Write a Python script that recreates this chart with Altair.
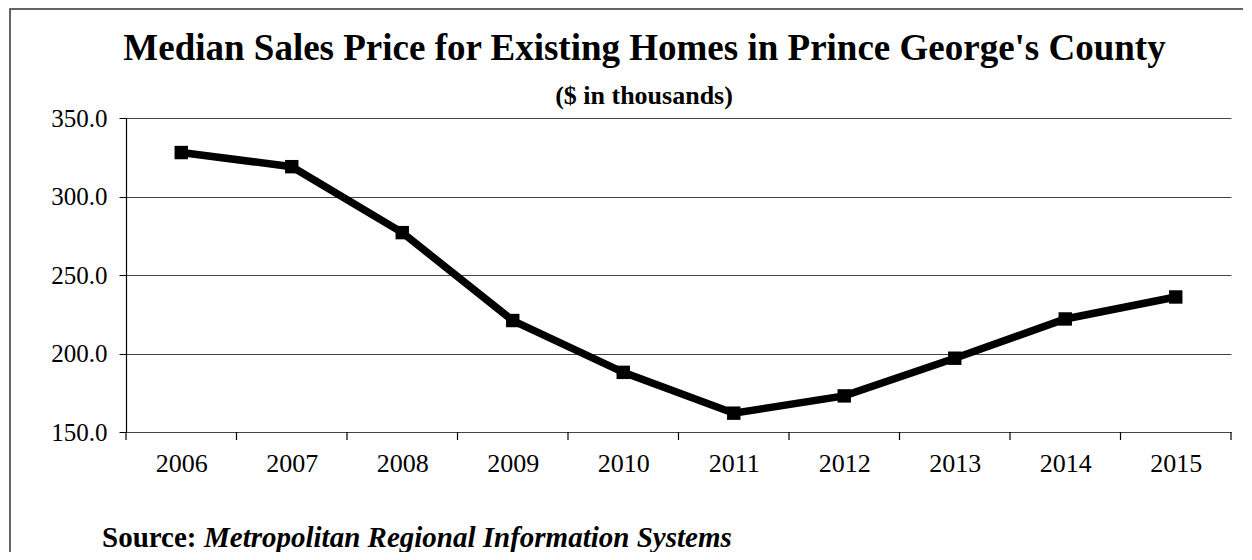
import altair as alt
import pandas as pd

years = [2006, 2007, 2008, 2009, 2010, 2011, 2012, 2013, 2014, 2015]
prices = [328, 319, 277, 221, 188, 162, 173, 197, 222, 236]
y_ticks = [150, 200, 250, 300, 350]
title_text = "Median Sales Price for Existing Homes in Prince George's County"
subtitle_text = "($ in thousands)"
source_label = "Source:"
source_text = "Metropolitan Regional Information Systems"

FONT = "Liberation Serif"
W, H = 1105, 314

df = pd.DataFrame({"year": years, "price": prices})
bounds = pd.DataFrame({"b": [y - 0.5 for y in years] + [years[-1] + 0.5]})

xscale = alt.Scale(domain=[years[0] - 0.5, years[-1] + 0.5], nice=False, zero=False)
yscale = alt.Scale(domain=[y_ticks[0], y_ticks[-1]], nice=False, zero=False)

base = alt.Chart(df)

line = base.mark_line(color="black", strokeWidth=7.5).encode(
    x=alt.X("year:Q", scale=xscale,
            axis=alt.Axis(values=years, format="d", title=None, grid=False, ticks=False,
                          domain=False, labelFont=FONT, labelFontSize=26, labelColor="black",
                          labelBaseline="alphabetic", labelPadding=39, labelFlush=False)),
    y=alt.Y("price:Q", scale=yscale,
            axis=alt.Axis(values=y_ticks, format=".1f", title=None, grid=True,
                          gridColor="#444", gridWidth=1, tickColor="black", tickSize=7,
                          domainColor="black", domainWidth=1.2, labelFont=FONT,
                          labelFontSize=25, labelColor="black", labelPadding=12)),
)

points = base.mark_point(shape="square", filled=True, color="black", size=180, opacity=1).encode(
    x=alt.X("year:Q", scale=xscale),
    y=alt.Y("price:Q", scale=yscale),
)

xticks = alt.Chart(bounds).mark_rule(color="black", strokeWidth=1.2).encode(
    x=alt.X("b:Q", scale=xscale),
    y=alt.value(H),
    y2=alt.value(H + 8),
)

def text_layer(txt, x, y, size, align="center", style="normal"):
    return alt.Chart(pd.DataFrame({"t": [txt]})).mark_text(
        font=FONT, fontSize=size, fontWeight="bold", fontStyle=style,
        align=align, baseline="alphabetic", color="black",
    ).encode(text="t:N", x=alt.value(x), y=alt.value(y))

title = text_layer(title_text, 518.5, -58, 37)
subtitle = text_layer(subtitle_text, 518, -14, 26)
src1 = text_layer(source_label, -24, 429, 29, align="left")
src2 = text_layer(source_text, 78, 429, 29, align="left", style="italic")

frame = alt.Chart(pd.DataFrame({"a": [0]})).mark_rect(
    fill=None, stroke="#333", strokeWidth=1.5
).encode(x=alt.value(-116), x2=alt.value(W + 100), y=alt.value(-109), y2=alt.value(H + 200))

chart = alt.layer(frame, xticks, line, points, title, subtitle, src1, src2).properties(
    width=W, height=H,
    autosize=alt.AutoSizeParams(type="none"),
    padding={"left": 118, "top": 110, "right": 12, "bottom": 120},
    background="white",
).configure_view(stroke=None)

chart.save("out.html", embed_options={"renderer": "svg", "actions": False})
